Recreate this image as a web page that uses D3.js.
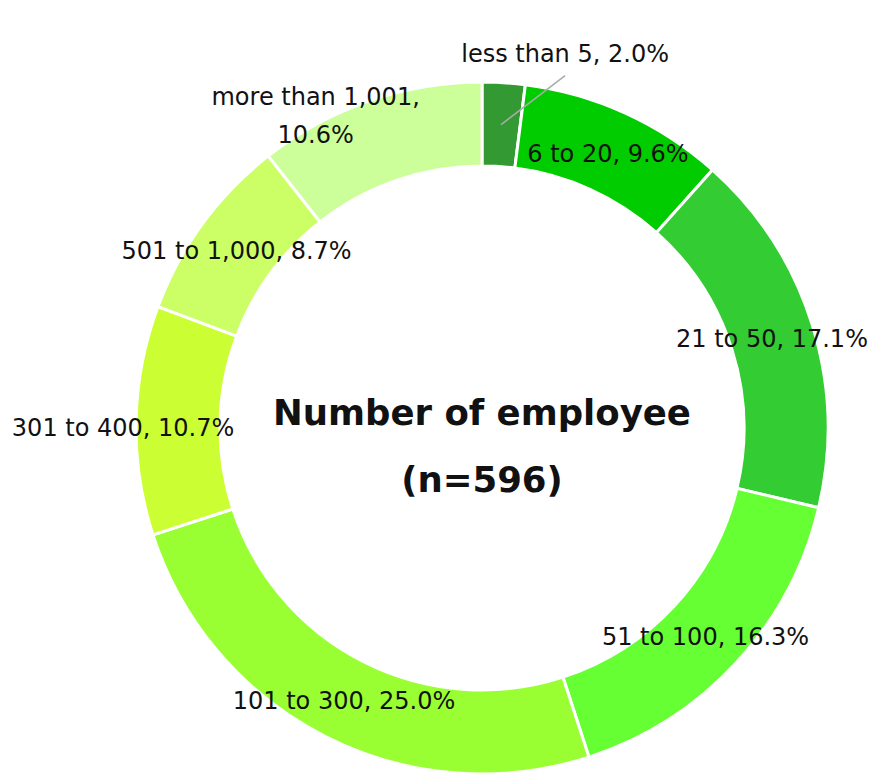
<!DOCTYPE html>
<html>
<head>
<meta charset="utf-8">
<script src="https://cdn.jsdelivr.net/npm/d3@7"></script>
<style>
  body { margin: 0; background: #fff; }
  text { font-family: "DejaVu Sans", Verdana, sans-serif; }
</style>
</head>
<body>
<script>
var svg_w = 872, svg_h = 774

// data
var categories = ["less than 5", "6 to 20", "21 to 50", "51 to 100", "101 to 300", "301 to 400", "501 to 1,000", "more than 1,001"]
var shares = [2.0, 9.6, 17.1, 16.3, 25.0, 10.7, 8.7, 10.6]
var colors = ["#339933", "#00cc00", "#33cc33", "#66ff33", "#99ff33", "#ccff33", "#ccff66", "#ccff99"]
var title_lines = ["Number of employee", "(n=596)"]

var svg = d3.select("body").append("svg")
    .attr("width", svg_w).attr("height", svg_h)

var cx = 482, cy = 428
var r_out = 346, r_in = 262
var fs = 24

var g = svg.append("g").attr("transform", "translate(" + cx + "," + cy + ")")

var pie = d3.pie().sort(null).value(d => d)
var arcs = pie(shares)

var arc = d3.arc().innerRadius(r_in).outerRadius(r_out)
var labelArc = d3.arc().innerRadius(304).outerRadius(304)

g.selectAll("path.slice")
  .data(arcs)
  .enter()
  .append("path")
  .attr("class", "slice")
  .attr("d", arc)
  .attr("fill", (d, i) => colors[i])
  .attr("stroke", "white")
  .attr("stroke-width", 3)

// labels: small slice goes outside with a leader line
arcs.forEach(function(d, i) {
    var c = labelArc.centroid(d)
    var txt = categories[i] + ", " + shares[i].toFixed(1) + "%"
    if (i == 0) {
        var end = [c[0] + 64, c[1] - 49]
        g.append("line")
          .attr("x1", c[0]).attr("y1", c[1])
          .attr("x2", end[0]).attr("y2", end[1])
          .attr("stroke", "#aaaaaa").attr("stroke-width", 1.5)
        g.append("text")
          .attr("x", end[0]).attr("y", end[1] - 14)
          .attr("text-anchor", "middle")
          .attr("font-size", fs)
          .attr("fill", "#111")
          .text(txt)
        return
    }
    var dx = 0, dy = 0
    if (i == 5) { dx = -55; dy = 4 }
    var t = g.append("text")
      .attr("text-anchor", "middle")
      .attr("font-size", fs)
      .attr("fill", "#111")
    if (i == 7) {
        // wrapped label
        t.append("tspan").attr("x", c[0] - 67).attr("y", c[1] - 36).text(categories[i] + ",")
        t.append("tspan").attr("x", c[0] - 67).attr("y", c[1] + 2).text(shares[i].toFixed(1) + "%")
    } else {
        t.attr("x", c[0] + dx).attr("y", c[1] + dy + 10.5).text(txt)
    }
})

// centre title
g.selectAll("text.title")
  .data(title_lines)
  .enter()
  .append("text")
  .attr("class", "title")
  .attr("x", 0)
  .attr("y", (d, i) => -3 + i * 67)
  .attr("text-anchor", "middle")
  .attr("font-size", 35.5)
  .attr("font-weight", "bold")
  .attr("fill", "#111")
  .text(d => d)
</script>
</body>
</html>
